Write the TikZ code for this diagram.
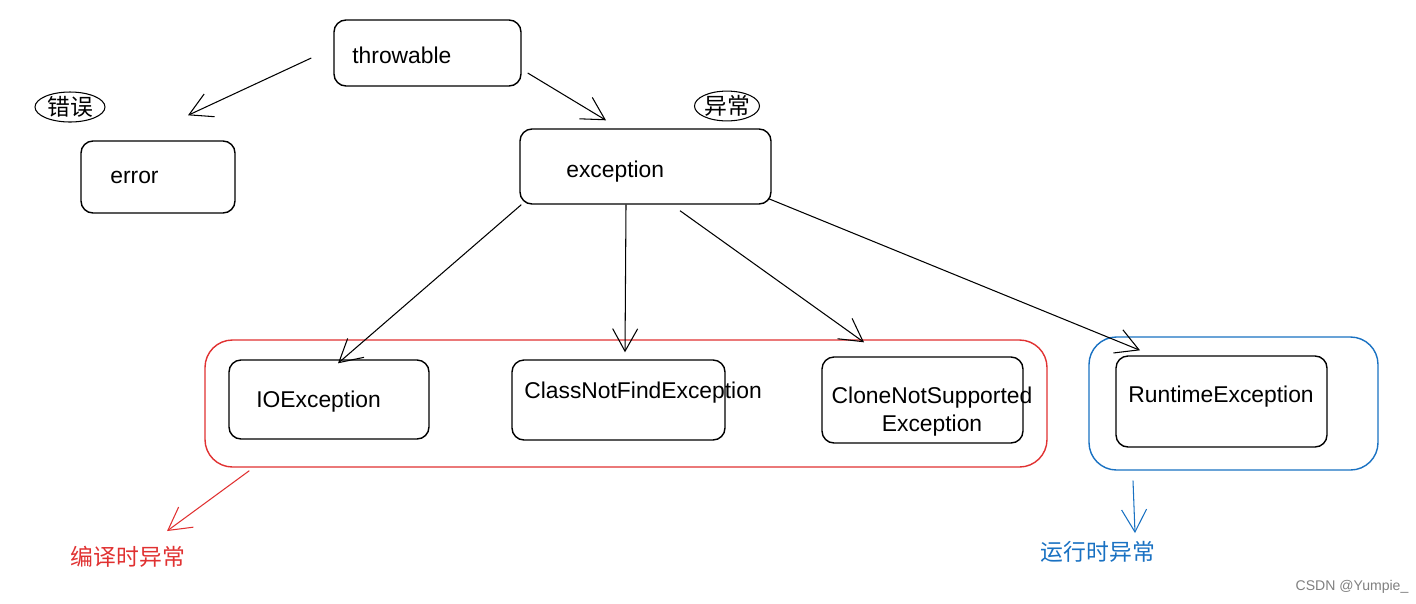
\documentclass[tikz,border=0pt]{standalone}
\usepackage{fontspec}
\setmainfont{Liberation Sans}
\newfontfamily\cjk{Noto Sans CJK SC}
\usetikzlibrary{arrows.meta, calc, fit, shapes.geometric}
\definecolor{exred}{RGB}{224,49,49}
\definecolor{exblue}{RGB}{25,113,194}

\begin{document}
\begin{tikzpicture}[x = 0.02cm, y = -0.02cm,
box/.style = {draw, line width = 0.8pt, rounded corners = 0.24cm, inner sep = 0pt},
grp/.style = {draw, line width = 0.8pt, rounded corners = 0.55cm, inner sep = 0pt},
txt/.style = {font = \fontsize{13}{16}\selectfont, inner sep = 0pt},
zh/.style = {font = \fontsize{13}{16}\selectfont\cjk, inner sep = 0pt},
tag/.style = {draw, ellipse, line width = 0.6pt, zh},
arr/.style = {-{Straight Barb[length = 0.45cm, width = 0.5cm]}, line width = 0.6pt}]
\useasboundingbox (0,0) rectangle (1416,603);

\node[grp, exred, fit = {(205,340) (1047,467)}](GC){};
\node[grp, exblue, fit = {(1089,337) (1378,470)}](GR){};

\node[box, fit = {(334,20) (521,86)}](THROW){};
\node[box, fit = {(81,141) (235,213)}](ERR){};
\node[box, fit = {(520,129) (771,204)}](EXC){};
\node[box, fit = {(229,360) (429,439)}](IO){};
\node[box, fit = {(512,360) (725,440)}](CNF){};
\node[box, fit = {(822,357) (1023,443)}](CNS){};
\node[box, fit = {(1116,356) (1327,447)}](RT){};

\node[txt, anchor = west] at (352,55) {throwable};
\node[txt, anchor = west] at (110,177) {error};
\node[txt, anchor = west] at (566,172) {exception};
\node[txt, anchor = west] at (256,402) {IOException};
\node[txt, anchor = west] at (524,393) {ClassNotFindException};
\node[txt, align = center] at (932,412) {CloneNotSupported\\Exception};
\node[txt, anchor = west] at (1128,397) {RuntimeException};

\node[tag, minimum width = 1.4cm, minimum height = 0.6cm](CW) at (70,107) {错误};
\node[tag, minimum width = 1.3cm, minimum height = 0.56cm](YC) at (727,106) {异常};
\node[zh, exred](BY) at (128,557) {编译时异常};
\node[zh, exblue](YX) at (1098,552) {运行时异常};
\node[font = \fontsize{8}{10}\selectfont, text = gray](WM) at (1352,587) {CSDN @Yumpie\_};

% arrows
\draw[arr] ($(THROW.west)+(-22,5)$) -- ($(ERR.north)+(30,-25)$);
\draw[arr] ($(THROW.east)+(6,20)$) -- ($(EXC.north)+(-39.5,-8)$);
\draw[arr] ($(EXC.south west)+(2,0)$) -- ($(IO.north)+(9,4)$);
\draw[arr] ($(EXC.south)+(-19.5,0)$) -- ($(CNF.north)+(6.5,-7)$);
\draw[arr] ($(EXC.south)+(34.5,6)$) -- ($(CNS.north)+(-58.5,-14)$);
\draw[arr] ($(EXC.south east)+(-3,-6)$) -- ($(RT.north)+(-81.5,-5)$);
\draw[arr, exred] ($(GC.south west)+(45,3)$) -- ($(BY.north)+(39,-15)$);
\draw[arr, exblue] ($(GR.south)+(-100.5,10)$) -- ($(YX.north)+(37,-8)$);
\end{tikzpicture}
\end{document}
